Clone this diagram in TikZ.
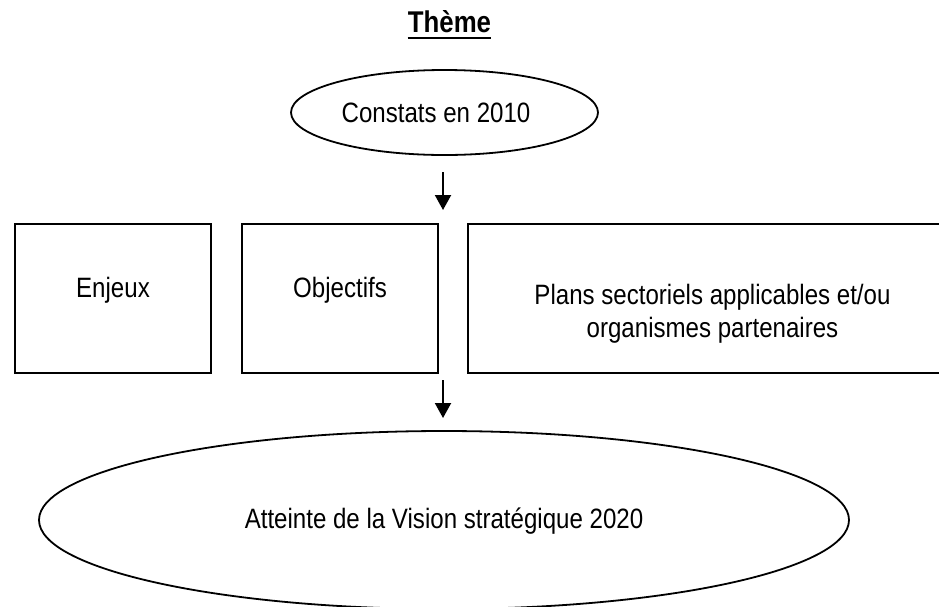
\documentclass[tikz,border=0pt]{standalone}
\usepackage{fontspec}
\setmainfont{Liberation Sans}[FakeStretch=0.86]
\usetikzlibrary{shapes.geometric,arrows.meta}
\begin{document}
\begin{tikzpicture}[x=1pt,y=-1pt,
  txt/.style={inner sep=0pt, font=\fontsize{28}{33}\selectfont},
  boxnode/.style={draw, line width=1.5pt, rectangle, inner sep=0pt, minimum height=149pt},
  ell/.style={draw, ellipse, line width=1.8pt, inner sep=0pt},
  arr/.style={line width=2pt, -{Triangle[width=16pt,length=15pt]}}]
\useasboundingbox (0,0) rectangle (939,606);
% title
\node[txt, anchor=base, font=\fontsize{30}{36}\selectfont\bfseries] (theme) at (449.5,32.5) {Thème};
\draw[line width=1.8pt] ([yshift=-5.5pt]theme.base west) -- ([yshift=-5.5pt]theme.base east);
% top ellipse
\node[ell, minimum width=307pt, minimum height=85pt] (top) at (444.5,112.5) {};
\node[txt, anchor=base] (toptext) at (436,122) {Constats en 2010};
% boxes
\node[boxnode, minimum width=196pt] (enjeux) at (113,298.5) {};
\node[txt, anchor=base] (enjeuxt) at (113,297) {Enjeux};
\node[boxnode, minimum width=196pt] (objectifs) at (340,298.5) {};
\node[txt, anchor=base] (objectifst) at (340,297) {Objectifs};
\node[boxnode, minimum width=489pt] (plans) at (712.5,298.5) {};
\node[txt, align=center] (planst) at (712.5,314) {Plans sectoriels applicables et/ou\\organismes partenaires};
% bottom ellipse
\node[ell, minimum width=810pt, minimum height=178pt] (bottom) at (444,520) {};
\node[txt, anchor=base] (bottomt) at (444,528) {Atteinte de la Vision stratégique 2020};
% arrows
\coordinate (a1s) at (443,172);
\coordinate (a1e) at (443,210);
\coordinate (a2s) at (443,380);
\coordinate (a2e) at (443,418);
\draw[arr] (a1s) -- (a1e);
\draw[arr] (a2s) -- (a2e);
\end{tikzpicture}
\end{document}
